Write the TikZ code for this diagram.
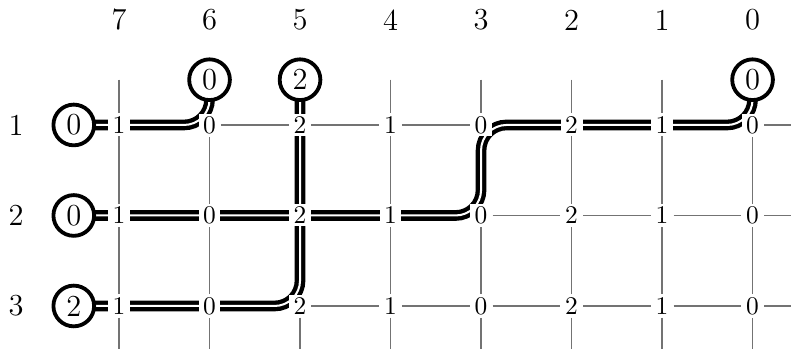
\documentclass[tikz,border=0pt]{standalone}
\pgfdeclarelayer{grid}
\pgfdeclarelayer{wires}
\pgfsetlayers{grid,wires,main}

\begin{document}
\begin{tikzpicture}
% Styles
\tikzstyle{cell} = [fill=white, inner xsep=1.8pt, inner ysep=1pt, font=\normalsize]
\tikzstyle{port} = [circle, draw, line width=1.5pt, fill=white, minimum size=16pt, inner sep=0pt, font=\large]
\tikzstyle{idx} = [font=\large]
\tikzstyle{gridline} = [draw=black!55, line width=0.55pt]
\tikzstyle{wire} = [line width=1.7pt, double=white, double distance=0.8pt, rounded corners=10pt]

\useasboundingbox (-1.644,-3.094) rectangle (9.281,1.726);

% Column and row labels
\foreach \c in {0,...,7}
  \node[idx] (col\c) at ({(7-\c)*1.25},1.45) {\c};
\foreach \r in {1,2,3}
  \node[idx] (row\r) at (-1.42,{-(\r-1)*1.25}) {\r};

% Grid nodes
\foreach \r in {1,2,3}
  \foreach \c/\v in {7/1,6/0,5/2,4/1,3/0,2/2,1/1,0/0}
    \node[cell] (n\r\c) at ({(7-\c)*1.25},{-(\r-1)*1.25}) {\v};

% Ends of the grid lines
\foreach \c in {0,...,7} {
  \coordinate (top\c) at ({(7-\c)*1.25},0.625);
  \coordinate (bot\c) at ({(7-\c)*1.25},-3.125);
}
\foreach \r in {1,2,3}
  \coordinate (end\r) at (9.375,{-(\r-1)*1.25});

% Inputs and outputs
\node[port] (in1) at (-0.625,0) {0};
\node[port] (in2) at (-0.625,-1.25) {0};
\node[port] (in3) at (-0.625,-2.5) {2};
\node[port] (out6) at (top6) {0};
\node[port] (out5) at (top5) {2};
\node[port] (out0) at (top0) {0};

% Grid lines
\begin{pgfonlayer}{grid}
\foreach \r in {1,2,3} {
  \foreach \c [evaluate=\c as \d using int(\c-1)] in {1,...,7}
    \draw[gridline] (n\r\c) -- (n\r\d);
  \draw[gridline] (n\r0) -- (end\r);
}
\foreach \c in {0,...,7} {
  \draw[gridline] (top\c) -- (n1\c);
  \draw[gridline] (n1\c) -- (n2\c);
  \draw[gridline] (n2\c) -- (n3\c);
  \draw[gridline] (n3\c) -- (bot\c);
}
\end{pgfonlayer}

% Wires
\begin{pgfonlayer}{wires}
\draw[wire] (in1.center) -- (n17.center) -- (n16.center) -- (out6.center);
\draw[wire] (in2.center) -- (n27.center) -- (n26.center) -- (n25.center) -- (n24.center)
  -- (n23.center) -- (n13.center) -- (n12.center) -- (n11.center) -- (n10.center) -- (out0.center);
\draw[wire] (in3.center) -- (n37.center) -- (n36.center) -- (n35.center) -- (n25.center)
  -- (n15.center) -- (out5.center);
\end{pgfonlayer}

\end{tikzpicture}
\end{document}
